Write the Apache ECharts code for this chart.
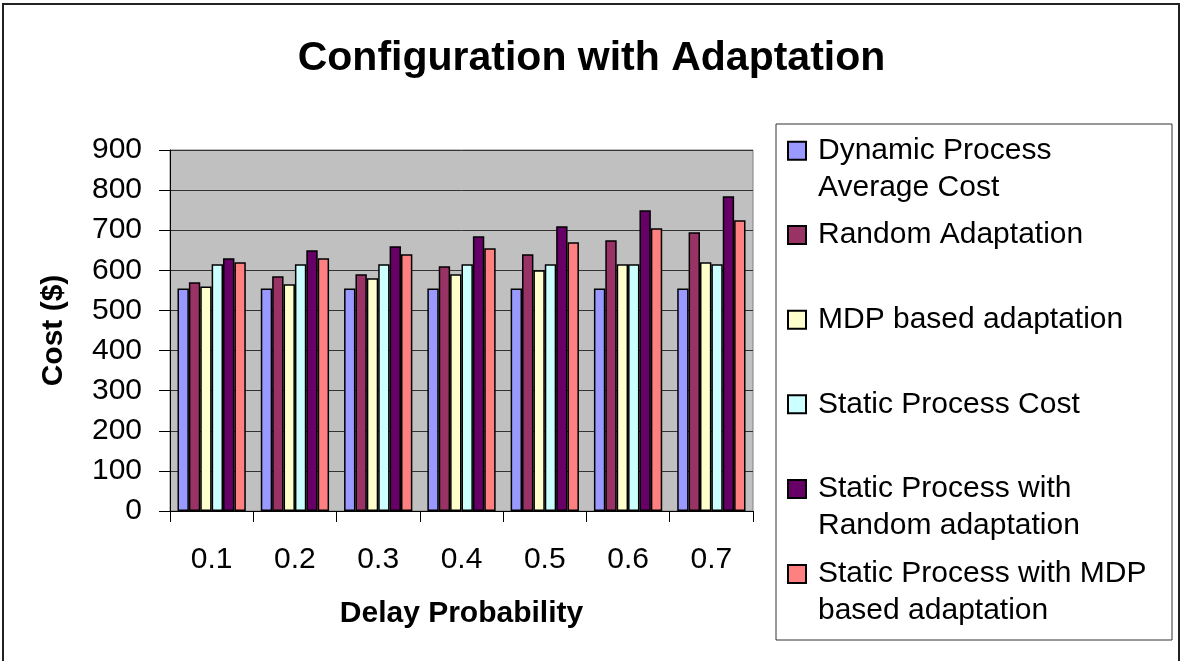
<!DOCTYPE html>
<html>
<head>
<meta charset="utf-8">
<script src="https://cdn.jsdelivr.net/npm/echarts@6/dist/echarts.min.js"></script>
<style>
  html, body { margin: 0; padding: 0; background: #fff; }
  #chart { width: 1183px; height: 661px; }
</style>
</head>
<body>
<div id="chart"></div>
<script>
const categories = ['0.1', '0.2', '0.3', '0.4', '0.5', '0.6', '0.7'];
const dynamicAvgCost   = [555, 555, 555, 555, 555, 555, 555];
const randomAdapt      = [570, 585, 590, 610, 640, 675, 695];
const mdpAdapt         = [560, 565, 580, 590, 600, 615, 620];
const staticCost       = [615, 615, 615, 615, 615, 615, 615];
const staticRandom     = [630, 650, 660, 685, 710, 750, 785];
const staticMdp        = [620, 630, 640, 655, 670, 705, 725];
const seriesNames = [
  'Dynamic Process Average Cost',
  'Random Adaptation',
  'MDP based adaptation',
  'Static Process Cost',
  'Static Process with Random adaptation',
  'Static Process with MDP based adaptation'
];
const legendLabels = [
  'Dynamic Process\nAverage Cost',
  'Random Adaptation',
  'MDP based adaptation',
  'Static Process Cost',
  'Static Process with\nRandom adaptation',
  'Static Process with MDP\nbased adaptation'
];
const yTicks = { min: 0, max: 900, interval: 100 };

const colors = ['#9999FF', '#993366', '#FFFFCC', '#CCFFFF', '#660066', '#FF8080'];
const seriesData = [dynamicAvgCost, randomAdapt, mdpAdapt, staticCost, staticRandom, staticMdp];
const FONT = 'Liberation Sans, Arial, sans-serif';

// square icon at top of a taller (invisible) box so it lines up with the first text line
const tallIcon = 'path://M0,0L18,0L18,18L0,18ZM0,55L0.001,55';

const iconTops = [141.7, 226, 310.7, 395.3, 480, 565];
const legends = seriesNames.map((name, i) => {
  const twoLine = legendLabels[i].indexOf('\n') >= 0;
  return {
    data: [name],
    left: 787,
    top: iconTops[i] - 9.5,
    padding: 0,
    orient: 'vertical',
    icon: twoLine ? tallIcon : 'rect',
    itemWidth: 18,
    itemHeight: twoLine ? 55 : 18,
    selectedMode: false,
    formatter: () => legendLabels[i],
    textStyle: {
      fontFamily: FONT, fontSize: 30, color: '#000', lineHeight: 37,
      padding: [0, 0, 0, 7]
    }
  };
});

const chart = echarts.init(document.getElementById('chart'));
chart.setOption({
  animation: false,
  backgroundColor: '#fff',
  color: colors,
  title: {
    text: 'Configuration with Adaptation',
    left: 'center',
    top: 38,
    padding: 0,
    textStyle: { fontFamily: FONT, fontSize: 41, fontWeight: 'bold', color: '#000' }
  },
  graphic: [
    { type: 'rect', shape: { x: 3, y: 4, width: 1176, height: 670 },
      style: { fill: 'none', stroke: '#222', lineWidth: 2 }, silent: true, z: -1 },
    { type: 'rect', shape: { x: 776, y: 124, width: 396, height: 516 },
      style: { fill: 'none', stroke: '#333', lineWidth: 1 }, silent: true, z: -1 }
  ],
  legend: legends,
  grid: {
    left: 170, top: 150, right: 430, bottom: 150,
    show: true, backgroundColor: '#C0C0C0', borderColor: '#808080', borderWidth: 1
  },
  xAxis: {
    type: 'category',
    data: categories,
    name: 'Delay Probability',
    nameLocation: 'middle',
    nameGap: 88,
    nameTextStyle: { fontFamily: FONT, fontSize: 30, fontWeight: 'bold', color: '#000' },
    axisLine: { lineStyle: { color: '#000', width: 1 } },
    axisTick: { show: true, length: 11, interval: 0, alignWithLabel: false, lineStyle: { color: '#000' } },
    axisLabel: { fontFamily: FONT, fontSize: 30, color: '#000', margin: 34, interval: 0 },
    splitLine: { show: false }
  },
  yAxis: {
    type: 'value',
    min: yTicks.min, max: yTicks.max, interval: yTicks.interval,
    name: 'Cost ($)',
    nameLocation: 'middle',
    nameGap: 101,
    nameTextStyle: { fontFamily: FONT, fontSize: 30, fontWeight: 'bold', color: '#000' },
    axisLine: { show: true, lineStyle: { color: '#000', width: 1 } },
    axisTick: { show: true, length: 11, lineStyle: { color: '#000' } },
    axisLabel: { fontFamily: FONT, fontSize: 30, color: '#000', margin: 28 },
    splitLine: { show: true, lineStyle: { color: '#333', width: 1 } }
  },
  series: seriesNames.map((name, i) => ({
    name: name,
    type: 'bar',
    data: seriesData[i],
    barGap: '0%',
    barCategoryGap: '18%',
    itemStyle: { color: colors[i], borderColor: '#000', borderWidth: 1.5 }
  }))
});
</script>
</body>
</html>
